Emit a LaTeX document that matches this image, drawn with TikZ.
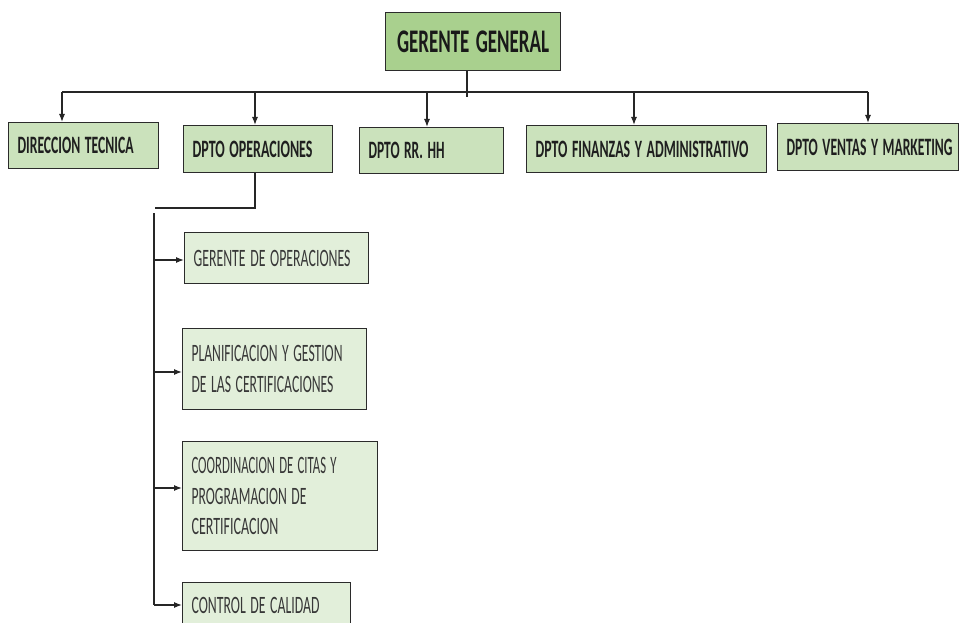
\documentclass[tikz,border=0pt]{standalone}
\usepackage{fontspec}
\usepackage{graphicx}
\setmainfont{Carlito}
\usetikzlibrary{arrows.meta}
\definecolor{topg}{HTML}{A9D08E}
\definecolor{depg}{HTML}{CBE2BC}
\definecolor{subg}{HTML}{E2EFDA}
\definecolor{edge}{HTML}{2B2B2B}
\newcommand\fitw[2]{\resizebox{#1pt}{\height}{#2}}
\begin{document}
\begin{tikzpicture}[x=1pt,y=-1pt,
  bx/.style={draw=edge, line width=1.1pt, rectangle, anchor=north west, inner xsep=9pt, inner ysep=0pt, align=left},
  topbox/.style={bx, fill=topg, align=center, inner xsep=0pt, text=black!90, font=\bfseries\fontsize{33}{36}\selectfont},
  depbox/.style={bx, fill=depg, text=black!88, font=\bfseries\fontsize{25}{30}\selectfont},
  subbox/.style={bx, fill=subg, text=black!78, font=\fontsize{25}{30.5}\selectfont},
  ln/.style={draw=black!85, line width=1.2pt},
  arr/.style={ln, -{Latex[length=8pt,width=6pt]}}]
\useasboundingbox (0,0) rectangle (961,623);
\clip (0,0) rectangle (961,623);
\fill[white] (0,0) rectangle (961,623);

% nodes
\node[topbox, text width=175pt, minimum height=58pt] (gg) at (385,12) {\fitw{152}{GERENTE GENERAL}};
\node[depbox, text width=132pt, minimum height=46pt] (dt) at (8,122) {\fitw{116}{DIRECCION TECNICA}};
\node[depbox, text width=131pt, minimum height=47pt] (op) at (183,125) {\fitw{120}{DPTO OPERACIONES}};
\node[depbox, text width=126pt, minimum height=46pt] (rh) at (359,127) {\fitw{76}{DPTO RR. HH}};
\node[depbox, text width=222pt, minimum height=47pt] (fa) at (526,125) {\fitw{213}{DPTO FINANZAS Y ADMINISTRATIVO}};
\node[depbox, text width=163pt, minimum height=47pt] (vm) at (777,123) {\fitw{166}{DPTO VENTAS Y MARKETING}};

\node[subbox, text width=166pt, minimum height=51pt] (c1) at (184,232) {\fitw{157}{GERENTE DE OPERACIONES}};
\node[subbox, text width=166pt, minimum height=81pt] (c2) at (182,328) {\fitw{151}{PLANIFICACION Y GESTION}\\\fitw{142}{DE LAS CERTIFICACIONES}};
\node[subbox, text width=177pt, minimum height=109pt] (c3) at (182,441) {\fitw{145}{COORDINACION DE CITAS Y}\\\fitw{115}{PROGRAMACION DE}\\\fitw{87}{CERTIFICACION}};
\node[subbox, text width=150pt, minimum height=46pt] (c4) at (182,582) {\fitw{128}{CONTROL DE CALIDAD}};

% top connectors
\coordinate (ggd) at (467,97);
\draw[ln] (gg.south -| ggd) -- (ggd);
\coordinate (t1) at (62,92);
\coordinate (t2) at (255,92);
\coordinate (t3) at (427,92);
\coordinate (t4) at (634,92);
\coordinate (t5) at (868,92);
\draw[ln] (t1) -- (t5);
\draw[arr] (t1) -- (t1 |- dt.north);
\draw[arr] (t2) -- (t2 |- op.north);
\draw[arr] (t3) -- (t3 |- rh.north);
\draw[arr] (t4) -- (t4 |- fa.north);
\draw[arr] (t5) -- (t5 |- vm.north);

% operations sub-tree
\coordinate (o1) at (255,208);
\coordinate (o2) at (155,208);
\draw[ln] (op.south -| o1) -- (o1) -- (o2);
\coordinate (v1) at (154,213);
\coordinate (h1) at (154,260);
\coordinate (h2) at (154,372);
\coordinate (h3) at (154,488);
\coordinate (h4) at (154,605);
\draw[ln] (v1) -- (h4);
\draw[arr] (h1) -- (h1 -| c1.west);
\draw[arr] (h2) -- (h2 -| c2.west);
\draw[arr] (h3) -- (h3 -| c3.west);
\draw[arr] (h4) -- (h4 -| c4.west);
\end{tikzpicture}
\end{document}
